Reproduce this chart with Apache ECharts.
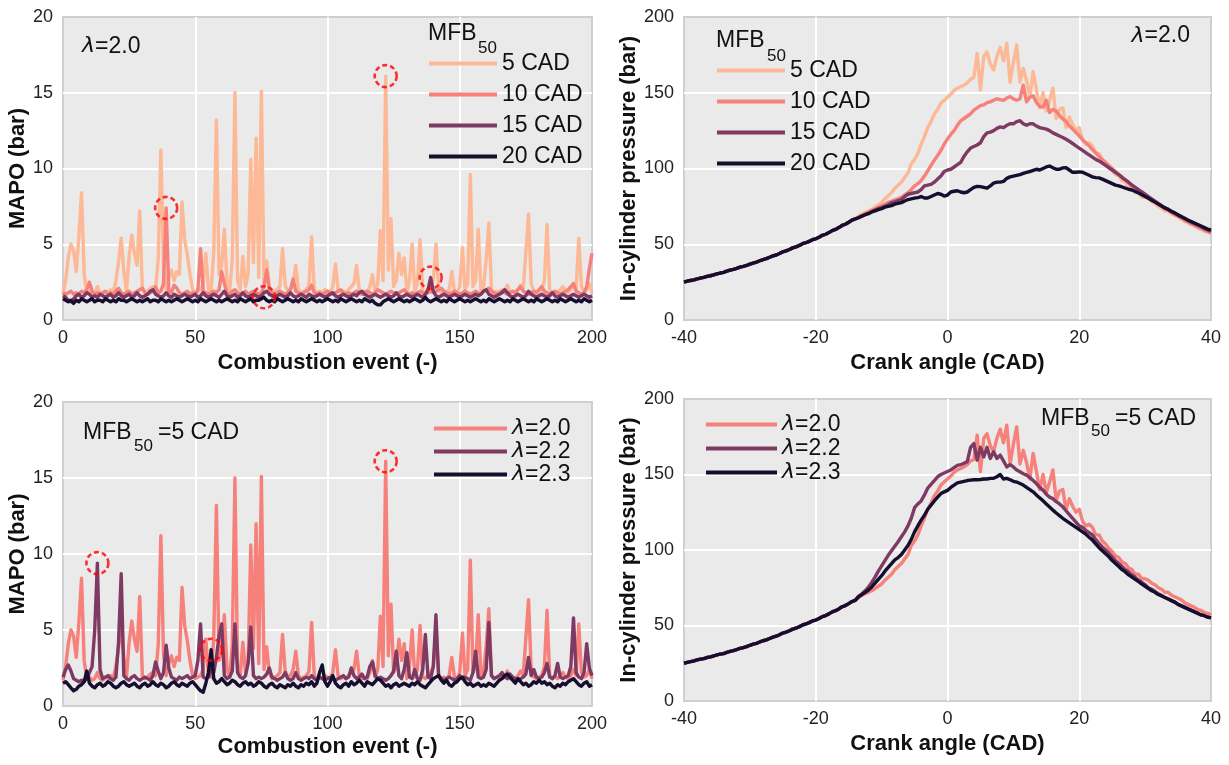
<!DOCTYPE html>
<html><head><meta charset="utf-8">
<script src="https://cdn.jsdelivr.net/npm/echarts@6/dist/echarts.min.js"></script>
<style>html,body{margin:0;padding:0;background:#fff}#c{width:1229px;height:765px}</style>
</head><body><div id="c"></div>
<script>
// ---------- MAPO per combustion event (0..200) ----------
const mapo5 = [1.7,2.6,4.1,5.0,4.6,3.2,5.5,8.4,3.0,1.8,
1.9,1.7,1.8,2.2,1.8,1.7,1.9,1.8,2.0,1.8,
2.6,3.8,5.4,3.2,1.9,4.2,5.6,4.4,3.6,7.2,
2.0,1.8,1.9,2.1,2.2,2.0,4.0,11.2,3.4,2.0,
2.8,3.3,2.6,3.2,3.0,7.8,5.3,4.3,3.0,2.0,
1.8,1.9,2.0,2.4,4.4,2.0,1.9,4.5,13.2,3.0,
3.6,6.0,2.4,1.9,4.0,15.0,2.6,2.0,4.2,2.2,
3.0,10.6,3.8,12.0,2.8,15.1,2.4,3.9,2.2,1.8,
1.9,2.0,2.2,4.7,2.3,1.9,2.0,2.4,3.6,2.0,
1.8,1.9,2.0,2.3,5.5,2.0,1.8,1.9,1.8,2.0,
1.9,1.8,2.2,3.7,2.0,1.8,1.9,1.8,2.0,2.2,
2.4,3.6,2.0,1.8,1.9,1.8,2.2,3.0,1.9,2.4,
5.9,2.6,16.1,3.3,6.7,2.2,2.6,4.4,3.0,4.1,
1.8,2.6,5.0,1.9,2.4,5.3,1.9,1.8,2.0,2.2,
2.6,5.0,2.0,1.8,1.9,1.8,2.0,3.2,1.9,1.8,
2.2,4.8,2.0,2.4,9.6,2.2,2.6,6.0,2.0,2.2,
4.0,6.4,2.0,1.8,1.9,1.8,2.0,1.9,2.3,1.8,
1.9,1.8,2.0,2.3,2.0,4.5,7.0,2.4,1.9,1.8,
1.9,2.0,2.6,6.3,2.0,1.8,1.9,1.8,2.0,2.2,
1.9,1.8,2.0,2.4,2.0,5.4,2.2,1.9,2.0,2.4,
1.8];
const mapo10 = [1.8,1.7,1.8,1.9,1.7,1.8,1.7,1.9,1.8,2.0,
2.5,1.9,1.7,1.8,1.7,1.8,1.9,1.7,1.8,1.7,
1.9,2.1,1.8,1.7,1.8,1.9,1.7,1.8,1.9,2.0,
2.1,1.8,1.7,1.8,1.9,2.2,1.8,1.9,2.4,7.4,
1.9,1.8,2.3,2.1,1.8,1.7,1.8,1.9,1.7,1.8,
1.7,2.0,4.7,1.9,1.8,1.7,1.8,1.9,1.8,2.0,
3.2,2.4,1.8,1.7,1.9,2.0,1.8,1.7,1.8,1.9,
1.7,1.8,1.9,1.8,1.7,1.8,2.2,3.3,2.0,1.8,
1.7,1.8,1.9,1.8,1.7,1.8,2.0,2.7,1.9,1.8,
1.7,1.8,1.9,2.0,2.3,1.8,1.7,1.8,1.7,1.8,
1.9,1.8,1.7,1.8,1.9,2.0,1.8,1.7,1.8,1.7,
1.8,1.9,1.8,1.7,1.8,1.9,1.8,1.7,1.8,2.0,
1.9,1.8,1.7,1.8,1.9,1.8,1.7,1.8,1.9,2.0,
1.8,1.7,1.8,1.7,1.8,1.9,1.8,1.7,1.8,1.9,
1.8,1.9,2.0,2.1,1.9,1.8,1.7,1.8,1.9,1.8,
1.7,1.8,1.9,1.8,1.7,1.8,1.9,1.8,1.7,1.9,
2.0,2.1,1.9,1.8,1.7,1.8,1.9,1.8,1.7,1.8,
1.9,1.8,2.0,2.2,1.9,1.8,1.7,1.8,1.9,1.8,
2.0,2.2,1.9,1.8,1.7,1.8,1.9,1.8,1.7,1.8,
1.9,2.0,2.2,2.4,1.9,1.8,1.7,1.8,2.2,3.4,
4.4];
const mapo15 = [1.6,1.5,1.3,1.2,1.4,1.6,1.7,1.5,1.6,1.8,
1.7,1.5,1.6,1.5,1.7,1.6,1.5,1.6,1.7,1.5,
1.6,1.8,1.6,1.5,1.6,1.7,1.5,1.6,1.8,1.6,
1.5,1.6,1.7,1.9,2.0,1.7,1.6,1.5,1.6,1.8,
1.6,1.5,1.7,1.6,1.5,1.6,1.7,1.6,1.5,1.6,
1.7,1.5,1.6,1.8,1.6,1.5,1.6,1.7,1.6,1.5,
1.7,1.9,1.6,1.5,1.6,1.7,1.5,1.6,1.8,1.6,
1.5,1.6,1.7,1.6,1.5,1.6,1.8,1.9,1.7,1.6,
1.5,1.6,1.7,1.6,1.5,1.6,1.8,1.6,1.5,1.6,
1.7,1.6,1.5,1.7,1.6,1.5,1.6,1.7,1.6,1.5,
1.6,1.7,1.8,1.6,1.5,1.6,1.7,1.6,1.5,1.6,
1.7,1.6,1.8,1.9,1.7,1.6,1.5,1.6,1.7,1.6,
1.5,1.6,1.7,1.6,1.5,1.6,1.8,1.6,1.5,1.6,
1.7,1.6,1.5,1.6,1.7,1.6,1.5,1.7,2.0,2.8,
1.9,1.6,1.5,1.6,1.7,1.6,1.5,1.6,1.7,1.6,
1.5,1.6,1.7,1.6,1.5,1.6,1.7,1.6,1.7,1.9,
2.0,1.7,1.6,1.5,1.6,1.7,1.8,2.0,1.8,1.6,
1.5,1.6,1.7,1.6,1.5,1.6,1.9,1.7,1.6,1.5,
1.6,1.7,1.6,1.5,1.6,1.8,1.6,1.5,1.6,1.7,
1.6,1.5,1.6,1.7,1.6,1.5,1.6,1.7,1.6,1.5,
1.6];
const mapo20 = [1.4,1.3,1.2,1.3,1.1,1.3,1.2,1.4,1.3,1.2,
1.3,1.4,1.2,1.3,1.3,1.2,1.4,1.3,1.2,1.3,
1.2,1.4,1.3,1.3,1.2,1.3,1.4,1.3,1.2,1.3,
1.2,1.3,1.4,1.2,1.3,1.3,1.2,1.4,1.3,1.2,
1.3,1.2,1.3,1.4,1.3,1.2,1.3,1.4,1.3,1.2,
1.3,1.2,1.4,1.3,1.2,1.3,1.4,1.3,1.2,1.3,
1.2,1.3,1.4,1.3,1.2,1.3,1.2,1.4,1.3,1.2,
1.3,1.4,1.2,1.3,1.3,1.4,1.5,1.3,1.2,1.3,
1.2,1.4,1.3,1.2,1.3,1.4,1.3,1.2,1.3,1.2,
1.4,1.3,1.2,1.3,1.4,1.3,1.2,1.3,1.2,1.3,
1.4,1.3,1.2,1.3,1.2,1.4,1.3,1.2,1.3,1.4,
1.3,1.2,1.3,1.2,1.4,1.3,1.2,1.3,1.1,1.0,
1.0,1.2,1.3,1.4,1.3,1.2,1.3,1.4,1.3,1.2,
1.3,1.2,1.3,1.4,1.3,1.2,1.3,1.5,1.3,1.2,
1.3,1.4,1.3,1.2,1.3,1.2,1.4,1.3,1.2,1.3,
1.4,1.3,1.2,1.3,1.2,1.3,1.4,1.3,1.2,1.3,
1.2,1.4,1.3,1.2,1.3,1.4,1.3,1.2,1.3,1.2,
1.4,1.3,1.2,1.3,1.4,1.3,1.2,1.3,1.2,1.4,
1.3,1.2,1.3,1.4,1.3,1.2,1.3,1.2,1.4,1.3,
1.2,1.3,1.4,1.3,1.2,1.3,1.2,1.4,1.3,1.2,
1.3];
const mapoL22 = [1.9,2.4,2.7,2.3,1.8,1.7,1.6,1.7,1.6,1.8,
2.2,2.6,5.0,9.4,2.4,1.8,1.9,2.0,1.8,1.7,
1.9,4.2,8.7,2.0,1.8,1.7,1.9,2.0,1.8,1.7,
1.8,1.9,1.8,1.7,2.0,2.9,2.3,1.8,2.2,4.0,
2.5,1.9,1.8,1.7,1.9,1.8,1.9,2.0,1.8,1.9,
2.0,3.0,5.4,1.9,1.8,1.9,2.4,2.2,3.2,4.6,
5.4,2.0,1.8,1.9,2.3,5.4,2.2,1.9,1.8,2.0,
2.8,5.2,2.0,1.8,1.9,1.8,1.9,2.1,2.5,1.9,
1.8,1.7,1.8,1.9,2.2,1.8,1.7,1.8,2.2,1.8,
1.7,1.8,1.9,1.8,2.0,1.8,1.7,1.9,1.8,1.7,
1.8,1.9,1.8,1.7,1.8,1.9,2.0,1.8,1.9,2.5,
2.0,1.8,1.9,2.1,1.8,1.9,2.6,2.9,2.0,1.8,
1.9,1.8,1.7,1.8,2.0,2.3,3.6,2.0,1.8,2.4,
3.5,1.9,1.8,2.4,1.8,1.7,2.4,4.7,1.9,1.8,
2.6,6.0,2.0,1.8,1.7,1.8,1.9,1.8,1.7,1.8,
2.0,1.8,1.9,1.8,1.7,2.2,3.6,1.9,1.8,1.9,
2.4,5.5,2.0,1.8,1.9,2.0,2.2,1.9,1.8,2.1,
1.9,1.8,1.7,1.8,1.9,2.1,3.2,2.0,2.4,1.9,
1.8,1.9,2.2,2.8,1.9,1.8,2.0,2.8,1.9,1.8,
1.9,2.0,2.6,5.8,2.2,1.9,1.8,2.2,4.1,2.5,
2.0];
const mapoL23 = [1.5,1.6,1.4,1.2,1.0,1.1,1.3,1.4,1.6,2.3,
1.5,1.3,1.2,1.4,1.5,1.3,1.4,1.6,1.5,1.3,
1.2,1.3,1.5,1.6,1.4,1.3,1.4,1.5,1.3,1.2,
1.4,1.5,1.3,1.4,1.6,1.4,1.3,1.5,1.4,1.2,
1.3,1.5,1.6,1.4,1.3,1.5,1.4,1.3,1.5,1.6,
1.4,1.2,1.0,0.9,1.5,2.2,3.7,1.8,1.5,1.6,
1.8,1.6,1.4,1.5,1.7,1.6,1.4,1.3,1.5,1.6,
1.4,1.5,1.3,1.4,1.6,1.5,1.3,1.2,1.4,1.5,
1.3,1.2,1.4,1.3,1.2,1.4,1.3,1.5,1.3,1.2,
1.4,1.3,1.5,1.4,1.6,1.3,1.5,2.2,2.7,1.6,
1.3,1.6,2.0,1.5,1.3,1.2,1.4,1.5,1.3,1.6,
1.4,1.5,1.7,1.5,1.3,1.6,1.5,1.4,1.6,1.8,
1.7,1.5,1.3,1.4,1.2,1.4,1.5,1.3,1.4,1.5,
1.4,1.3,1.5,1.4,1.6,1.4,1.3,1.2,1.4,1.6,
1.8,1.9,2.0,1.7,1.5,1.7,1.4,1.3,1.5,1.6,
1.8,1.9,1.6,1.4,1.5,1.3,1.4,1.5,1.3,1.4,
1.3,1.5,1.4,1.3,1.5,1.7,1.8,2.0,2.1,1.9,
1.7,1.5,1.8,1.6,1.4,1.5,1.3,1.4,1.6,1.5,
1.7,1.5,1.6,1.4,1.5,1.3,1.2,1.4,1.3,1.5,
1.4,1.6,1.7,1.8,1.6,1.4,1.3,1.5,1.6,1.3,
1.4];
// circled cycles: [event index]
const tlCircle10 = [39], tlCircle20 = [76], tlCircle5 = [122], tlCircle15 = [139];
const blCircle22 = [13], blCircle23 = [56], blCircle20 = [122];

// ---------- In-cylinder pressure, crank angle -40..40 step 0.5 ----------
const angleStart = -40, angleStep = 0.5;
const pBase = [25.0,25.6,26.1,26.5,27.2,27.7,28.1,28.8,29.2,29.8,
30.5,31.0,31.4,32.2,32.9,33.4,34.1,34.9,35.4,36.0,
36.9,37.6,38.2,39.1,39.9,40.5,41.4,42.3,42.9,43.9,
45.0,45.6,46.5,47.6,48.3,49.2,50.4,51.0,51.9,53.0,
53.6,54.6,55.9,56.6,57.7,59.0,59.8,61.0,62.4,63.2,
64.5,65.9,66.7];
const p5Tail = [68.5,70,71,72,73,74.5,76,77.5,80,82,
84,87,89,91,94,97,103,106,110,116,
121,127,131,136,139,143,145,147,149,151.5,
153,154,155,156.5,159,160,176,152,174,177,
169,165,174,180,171,182.7,157,170,181.5,157,
166,158,147,164,152,140,150,138,145,153,
133,139,140,127,134,129,125,127,119,116,
117,115,110,110,106,104,101,99,96,95,
92,91,88,87,84,84,81,81,80,78,
77,75,74,72,72,70,69,68,67,65,
64,63,62,60.5,60,58.5,58,57];
const p10Tail = [67.9,69,70.2,71,72.3,73.1,74.4,75.3,76.4,77.6,
78.4,79.3,80,81,82.5,84,86,88.5,90,92,
95,98.5,102,105.5,108.5,112,116,119.5,122.5,125,
128.5,131.5,133,134.5,136,138.5,140,141.5,142,143.5,
144,145,146,145.5,145,146.5,147.5,146,145,146,
155,144,147,148,143.5,141,140.5,145,137,139,
138,135,132.7,131,128,126,123.8,121.5,119,117,
115,112.5,110.4,108,106,104,102,100,98,96,
94.5,92.5,90.5,89,87,85.5,84,82.5,81,79.5,
78,76.5,75,73.5,72.5,71,69.5,68.5,67,66,
65,63.5,62.5,61.5,60.5,59.5,58.5,57.5];
const p15Tail = [67.5,68.5,69.5,70.5,71.5,72.5,73.5,74.2,75,76,
77.5,78,78.8,79.5,81.5,83,83.5,84,84.5,86,
88.5,89,89.5,91,93,95,98,99,99.5,101,
102.5,104,108,111,113.5,114.5,115.5,117,121,123.5,
124,125,126.5,127.5,127,128.5,129.5,129.5,131,131.5,
129.5,128.5,129.5,129.5,128,127,126.5,126,125,123.5,
122.5,121.5,120.5,119.3,118,116.5,115,113.5,112,110.4,
109,107.5,106,105,103.5,102,100.5,99,97.5,96,
94,92.5,91,89,87.5,86,84.5,83,81.5,80,
78.5,77,75.5,74,73,71.5,70.5,69,68,67,
65.5,64.5,63.5,62.5,61.5,60.5,59.5,58.5];
const p20Tail = [67.5,68.6,69.5,70.2,71.3,72,72.8,73.5,74.5,75,
75.5,76.5,77,77.5,78.5,79.5,80,80.5,80.8,81.5,
80.5,80.5,81.5,82.5,83.5,83,81.8,82.5,84.5,85,
85.3,84.5,84,84.5,86,87.5,88.2,88,87.5,87,
88.5,90.4,91,91,91.5,93.5,94.5,95,95.5,96,
96.8,97.5,98,98.8,99.5,99,100,101,101.6,100.5,
99.5,99.5,100.4,100.5,99,97.5,97.5,97.8,97.5,96.5,
95.5,94.5,94,93.8,93,92,91,90,89,88.5,
87.8,87,86.3,85.8,84.8,83.8,82.7,81.5,80.3,79,
77.8,76.5,75.2,74,73,71.8,70.7,69.5,68.3,67.2,
66,65,64,63,62,61,60,59.5];
const pL22Tail = [69.5,71,73,75.5,78.5,82,86,89.5,93,96.5,
99.5,102.5,105.5,108.8,112,116,121,128,130.5,132.5,
136.5,141,143.5,146,148.5,150,151,152,153,154.5,
156,156.5,157.5,158.5,168,170.5,159.5,168,161.7,168,
160.6,165,160.6,162.8,159,155,156.5,155,153,151.8,
150.5,149.6,148,146,144,141.5,139.6,137,135,134,
132,130.5,128.6,126,123.5,121,118.5,116,115,113,
111.5,110,107,104.4,102,100,98,95.5,93,91,
89,87,85.5,83.5,82,80,78.5,77,75,74,
72.5,71,70,68.5,67.5,66.5,65.5,64,63,62,
61,60,59,58,57,56.5,55.5,55];
const pL23Tail = [69,70.5,72,73.5,75.5,78,80.5,83,86,88.5,
91,93.5,95,97,100,103,107,112,116,119.8,
123,127,129.7,132.5,135,137.4,138.5,139.5,141.4,143,
144.5,145,145.5,146,146.3,146.5,146.5,146.7,147,147,
147.4,147.5,148.5,150,147,147.4,146.5,145.5,145,144,
143,141.5,140,138.5,136.5,134.5,132.6,130.5,128.5,126.4,
124.5,122.8,121,119.5,118,116.5,115,113.5,112,110.5,
108.5,106.6,104,101.5,99.5,97.5,95.5,93,91,89,
87,85.5,83.5,82,80.5,79,77.5,76,74.5,73,
72,70.5,69.5,68.5,67.5,66.5,65.5,64,63,62,
61,60,59,58,57,56.5,55.5,55];
const p5 = pBase.concat(p5Tail), p10 = pBase.concat(p10Tail), p15 = pBase.concat(p15Tail), p20 = pBase.concat(p20Tail);
const pL22 = pBase.concat(pL22Tail), pL23 = pBase.concat(pL23Tail);

const mfbNames = ['5 CAD','10 CAD','15 CAD','20 CAD'];
const lamNames = ['λ=2.0','λ=2.2','λ=2.3'];

// ---------- styling ----------
const FONT = '"Liberation Sans", Arial, sans-serif';
const C5 = '#FDB896', C10 = '#F6807A', C15 = '#7E3A62', C20 = '#160E2E';
const TXT = '#111111';

const ev = a => a.map((v, i) => [i, v]);
const ang = a => a.map((v, i) => [angleStart + i * angleStep, v]);
const circ = (arr, idx) => idx.map(i => [i, arr[i]]);

function line(name, data, color, xi) {
  return { type: 'line', name, data, xAxisIndex: xi, yAxisIndex: xi, color, symbol: 'none', showSymbol: false,
    lineStyle: { color, width: 3.4, join: 'round' }, emphasis: { disabled: true }, silent: true, animation: false };
}
function circles(data, xi) {
  return { type: 'scatter', data, xAxisIndex: xi, yAxisIndex: xi, symbol: 'circle', symbolSize: 22, z: 10, silent: true,
    itemStyle: { color: 'rgba(0,0,0,0)', borderColor: '#FF0000', borderWidth: 2.6, borderType: [5, 3] }, animation: false };
}
const nameStyle = { fontFamily: FONT, fontSize: 22, fontWeight: 'bold', color: TXT };
const labelStyle = { fontFamily: FONT, fontSize: 18, color: '#222' };
const split = { show: true, showMinLine: false, showMaxLine: false, lineStyle: { color: '#FFFFFF', width: 2 } };
function xAx(gi, min, max, interval, name, gap) {
  return { type: 'value', gridIndex: gi, min, max, interval, name, nameLocation: 'middle', nameGap: gap, nameTextStyle: nameStyle,
    axisLine: { show: false }, axisTick: { show: false }, axisLabel: Object.assign({ margin: 9 }, labelStyle), splitLine: split };
}
function yAx(gi, min, max, interval, name, gap) {
  return { type: 'value', gridIndex: gi, min, max, interval, name, nameLocation: 'middle', nameGap: gap, nameTextStyle: nameStyle,
    axisLine: { show: false }, axisTick: { show: false }, axisLabel: Object.assign({ margin: 10 }, labelStyle), splitLine: split };
}
const gridStyle = { show: true, backgroundColor: '#EAEAEA', borderColor: '#CFCFCF', borderWidth: 2 };

function legend(left, top, data, width, gap, lam) {
  const lg = { left, top, orient: 'vertical', data, icon: 'rect', itemWidth: width, itemHeight: 4, itemGap: gap, padding: 0,
    selectedMode: false, textStyle: { fontFamily: FONT, fontSize: 23, color: TXT, lineHeight: 23 } };
  if (lam) {
    lg.formatter = n => '{i|λ}{t|' + n.slice(1) + '}';
    lg.textStyle.rich = { i: { fontFamily: 'DejaVu Sans', fontStyle: 'italic', fontSize: 22, color: TXT, lineHeight: 23 },
                          t: { fontFamily: FONT, fontSize: 23, color: TXT, lineHeight: 23 } };
  }
  return lg;
}
function txt(x, y, text, size, align) {
  return { type: 'text', x, y, z: 100, silent: true, style: { text, fill: TXT, fontFamily: FONT, fontSize: size,
    align: align || 'left', verticalAlign: 'middle',
    rich: { i: { fontFamily: 'DejaVu Sans', fontStyle: 'italic', fontSize: size - 1, fill: TXT } } } };
}

const option = {
  backgroundColor: '#FFFFFF',
  animation: false,
  grid: [
    Object.assign({ left: 63, top: 17, width: 529, height: 303 }, gridStyle),
    Object.assign({ left: 684, top: 17, width: 527, height: 303 }, gridStyle),
    Object.assign({ left: 63, top: 402, width: 529, height: 304 }, gridStyle),
    Object.assign({ left: 684, top: 399, width: 527, height: 302 }, gridStyle)
  ],
  xAxis: [
    xAx(0, 0, 200, 50, 'Combustion event (-)', 32),
    xAx(1, -40, 40, 20, 'Crank angle (CAD)', 32),
    xAx(2, 0, 200, 50, 'Combustion event (-)', 30),
    xAx(3, -40, 40, 20, 'Crank angle (CAD)', 32)
  ],
  yAxis: [
    yAx(0, 0, 20, 5, 'MAPO (bar)', 31),
    yAx(1, 0, 200, 50, 'In-cylinder pressure (bar)', 34),
    yAx(2, 0, 20, 5, 'MAPO (bar)', 31),
    yAx(3, 0, 200, 50, 'In-cylinder pressure (bar)', 34)
  ],
  legend: [
    legend(429, 52, mfbNames, 68, 8, false),
    legend(717, 59, mfbNames, 68, 8, false),
    legend(434, 417, lamNames, 73, 0, true),
    legend(706, 413, lamNames, 71, 1, true)
  ],
  graphic: [
    txt(82, 46.5, '{i|λ}=2.0', 23),
    txt(428, 34, 'MFB', 23), txt(478, 48, '50', 17),
    txt(1190, 36, '{i|λ}=2.0', 23, 'right'),
    txt(716, 41, 'MFB', 23), txt(767, 56, '50', 17),
    txt(83, 432.5, 'MFB', 23), txt(134, 446.5, '50', 17), txt(158, 432.5, '=5 CAD', 23),
    txt(1041, 418.5, 'MFB', 23), txt(1091, 431.5, '50', 17), txt(1115, 418.5, '=5 CAD', 23)
  ],
  series: [
    line('5 CAD', ev(mapo5), C5, 0), line('10 CAD', ev(mapo10), C10, 0),
    line('15 CAD', ev(mapo15), C15, 0), line('20 CAD', ev(mapo20), C20, 0),
    circles([].concat(circ(mapo10, tlCircle10), circ(mapo20, tlCircle20), circ(mapo5, tlCircle5), circ(mapo15, tlCircle15)), 0),
    line('5 CAD', ang(p5), C5, 1), line('10 CAD', ang(p10), C10, 1),
    line('15 CAD', ang(p15), C15, 1), line('20 CAD', ang(p20), C20, 1),
    line('λ=2.0', ev(mapo5), C10, 2), line('λ=2.2', ev(mapoL22), C15, 2), line('λ=2.3', ev(mapoL23), C20, 2),
    circles([].concat(circ(mapoL22, blCircle22), circ(mapoL23, blCircle23), circ(mapo5, blCircle20)), 2),
    line('λ=2.0', ang(p5), C10, 3), line('λ=2.2', ang(pL22), C15, 3), line('λ=2.3', ang(pL23), C20, 3)
  ]
};
const chart = echarts.init(document.getElementById('c'), null, { renderer: 'canvas' });
chart.setOption(option);
</script>
</body></html>
